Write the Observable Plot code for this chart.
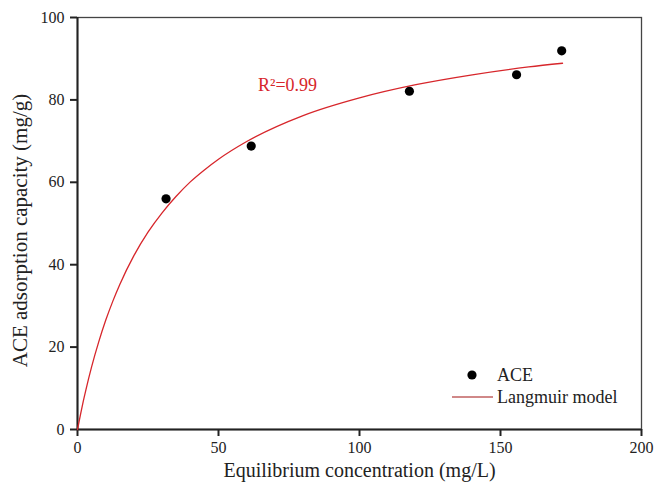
<!DOCTYPE html>
<html><head><meta charset="utf-8">
<script src="https://cdn.jsdelivr.net/npm/d3@7"></script>
<script src="https://cdn.jsdelivr.net/npm/@observablehq/plot@0.6"></script>
<style>body{margin:0;background:#fff} #chart{width:655px;height:487px}</style>
</head><body><div id="chart"></div>
<script>
// Measured ACE points
const concentration = [31.4, 61.6, 117.7, 155.7, 171.7];
const capacity = [56.0, 68.8, 82.1, 86.1, 91.9];
// Langmuir model curve
const modelConc = [0, 1, 2, 3, 5, 7.5, 10, 12.5, 15, 20, 25, 30, 35, 40, 45, 50, 60, 80, 100, 120, 140, 160, 172];
const modelCap = [0, 3.4, 6.7, 9.7, 15.2, 21.2, 26.5, 31.1, 35.2, 42.2, 47.9, 52.6, 56.6, 60.1, 63.0, 65.6, 69.9, 76.2, 80.5, 83.7, 86.1, 88.0, 88.9];
const xTicks = [0, 50, 100, 150, 200];
const yTicks = [0, 20, 40, 60, 80, 100];
const seriesNames = ["ACE", "Langmuir model"];
const annotation = [{x: 64, y: 83.5, text: "R\u00B2=0.99"}];

const points = concentration.map((c, i) => ({c, q: capacity[i]}));
const model = modelConc.map((c, i) => ({c, q: modelCap[i]}));

const red = "#d7262b";
const font = "Liberation Serif, Times New Roman, serif";

const chart = Plot.plot({
  width: 655, height: 487,
  marginLeft: 77, marginRight: 14, marginTop: 17, marginBottom: 58,
  style: {fontFamily: font, fontSize: "16px", color: "#222", background: "#fff"},
  x: {domain: [0, 200]},
  y: {domain: [0, 100]},
  marks: [
    Plot.frame({stroke: "#444", strokeWidth: 1.3}),
    Plot.axisX({ticks: xTicks, tickSize: 7, tickPadding: 5, label: null, tickFormat: d => d, strokeWidth: 2, fontSize: 16}),
    Plot.axisY({ticks: yTicks, tickSize: 7, tickPadding: 6, label: null, tickFormat: d => d, strokeWidth: 2, fontSize: 16}),
    Plot.ruleX([0], {stroke: "#222", strokeWidth: 2}),
    Plot.ruleY([0], {stroke: "#222", strokeWidth: 2}),
    Plot.line(model, {x: "c", y: "q", stroke: red, strokeWidth: 1.3, curve: "monotone-x"}),
    Plot.dot(points, {x: "c", y: "q", r: 4.6, fill: "#000", stroke: "none"}),
    Plot.text(annotation, {x: "x", y: "y", text: "text", fill: red, fontSize: 18, textAnchor: "start"}),
    Plot.text(["Equilibrium concentration (mg/L)"], {frameAnchor: "bottom", dy: 41, lineAnchor: "middle", textAnchor: "middle", fontSize: 20, fill: "#222"}),
    Plot.text(["ACE adsorption capacity (mg/g)"], {frameAnchor: "left", dx: -57, dy: 7, rotate: -90, textAnchor: "middle", lineAnchor: "middle", fontSize: 21, fill: "#222"})
  ]
});
document.getElementById("chart").appendChild(chart);

// Legend inside the plot area (bottom-right)
const svg = d3.select(chart);
const lg = svg.append("g").attr("font-family", font).attr("font-size", 18).attr("fill", "#222").attr("text-anchor", "start");
lg.append("circle").attr("cx", 472).attr("cy", 375).attr("r", 4.6).attr("fill", "#000");
lg.append("text").attr("x", 497).attr("y", 375).attr("dy", "0.35em").text(seriesNames[0]);
lg.append("line").attr("x1", 452).attr("x2", 493).attr("y1", 397).attr("y2", 397).attr("stroke", "#c06060").attr("stroke-width", 1.3);
lg.append("text").attr("x", 497).attr("y", 397).attr("dy", "0.35em").text(seriesNames[1]);
</script>
</body></html>
